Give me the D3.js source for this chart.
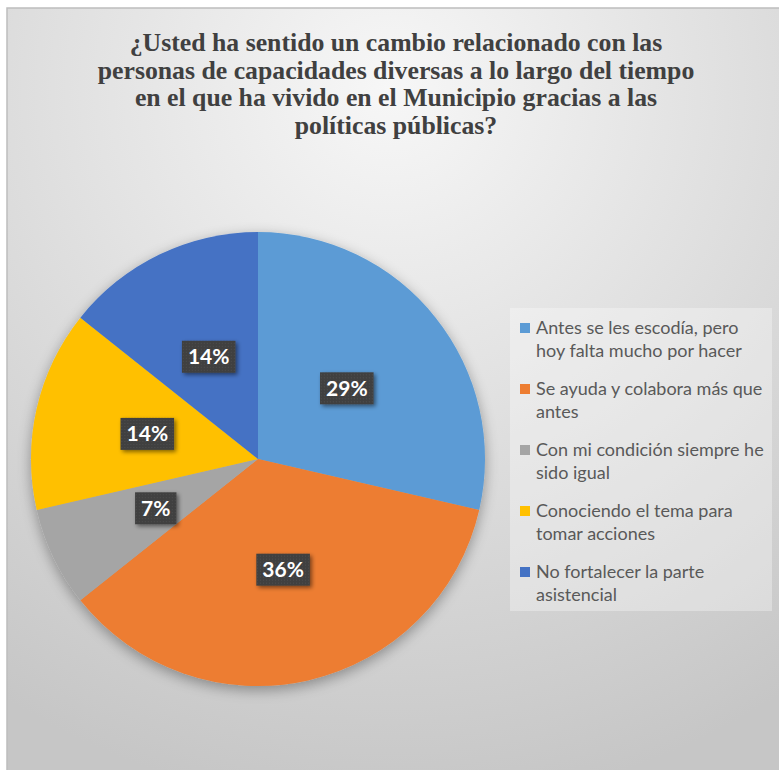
<!DOCTYPE html>
<html><head><meta charset="utf-8">
<script src="https://cdn.jsdelivr.net/npm/d3@7"></script>
<style>html,body{margin:0;padding:0;background:#fff;} svg{display:block}</style>
</head><body>
<svg id="chart" width="779" height="770"></svg>
<script>
const titleLines = [
  "¿Usted ha sentido un cambio relacionado con las",
  "personas de capacidades diversas a lo largo del tiempo",
  "en el que ha vivido en el Municipio gracias a las",
  "políticas públicas?"
];
const categories = [
  "Antes se les escodía, pero\nhoy falta mucho por hacer",
  "Se ayuda y colabora más que\nantes",
  "Con mi condición siempre he\nsido igual",
  "Conociendo el tema para\ntomar acciones",
  "No fortalecer la parte\nasistencial"
];
const values = [28.6, 35.7, 7.1, 14.3, 14.3];
const colors = ["#5B9BD5", "#ED7D31", "#A5A5A5", "#FFC000", "#4472C4"];

const W = 779, H = 770;
const svg = d3.select("#chart");
const defs = svg.append("defs");

const bg = defs.append("radialGradient").attr("id", "bg")
  .attr("gradientUnits", "userSpaceOnUse")
  .attr("cx", 390).attr("cy", 90).attr("r", 720).attr("fx", 390).attr("fy", 90);
bg.append("stop").attr("offset", 0).attr("stop-color", "#f7f7f7");
bg.append("stop").attr("offset", 0.55).attr("stop-color", "#dcdcdc");
bg.append("stop").attr("offset", 1).attr("stop-color", "#c6c6c6");

const pieShadow = defs.append("filter").attr("id", "pieShadow")
  .attr("x", "-20%").attr("y", "-20%").attr("width", "140%").attr("height", "140%");
pieShadow.append("feGaussianBlur").attr("in", "SourceAlpha").attr("stdDeviation", 7).attr("result", "b");
pieShadow.append("feOffset").attr("in", "b").attr("dx", 0).attr("dy", 4).attr("result", "o");
pieShadow.append("feComponentTransfer").attr("in", "o").attr("result", "o2")
  .append("feFuncA").attr("type", "linear").attr("slope", 0.35);
const pm = pieShadow.append("feMerge");
pm.append("feMergeNode").attr("in", "o2");
pm.append("feMergeNode").attr("in", "SourceGraphic");

const boxShadow = defs.append("filter").attr("id", "boxShadow")
  .attr("x", "-30%").attr("y", "-30%").attr("width", "160%").attr("height", "160%");
boxShadow.append("feGaussianBlur").attr("in", "SourceAlpha").attr("stdDeviation", 2).attr("result", "b");
boxShadow.append("feOffset").attr("in", "b").attr("dx", 2).attr("dy", 2).attr("result", "o");
boxShadow.append("feComponentTransfer").attr("in", "o").attr("result", "o2")
  .append("feFuncA").attr("type", "linear").attr("slope", 0.5);
const bm = boxShadow.append("feMerge");
bm.append("feMergeNode").attr("in", "o2");
bm.append("feMergeNode").attr("in", "SourceGraphic");

const dots = defs.append("pattern").attr("id", "dots")
  .attr("width", 3).attr("height", 3).attr("patternUnits", "userSpaceOnUse");
dots.append("rect").attr("width", 3).attr("height", 3).attr("fill", "#404040");
dots.append("rect").attr("x", 1).attr("y", 1).attr("width", 1).attr("height", 1).attr("fill", "#4f4f4f");

// frame
svg.append("rect").attr("x", 7).attr("y", 8).attr("width", W - 6).attr("height", H - 7)
  .attr("fill", "url(#bg)").attr("stroke", "#bdbdbd").attr("stroke-width", 1.5);

// title
const titleG = svg.append("g");
titleG.selectAll("text").data(titleLines).join("text")
  .attr("x", 396).attr("y", (d, i) => 51 + i * 27.5)
  .attr("text-anchor", "middle")
  .attr("font-family", "'Liberation Serif', 'Times New Roman', serif")
  .attr("font-weight", "bold").attr("font-size", 25)
  .attr("fill", "#404040")
  .text(d => d)
  .each(function() {
    const w = this.getComputedTextLength();
    d3.select(this).attr("textLength", w * 1.03).attr("lengthAdjust", "spacingAndGlyphs");
  });

// pie
const cx = 258, cy = 459, R = 227;
const pie = d3.pie().sort(null).value(d => d);
const arcs = pie(values);
const total = d3.sum(values);
const arc = d3.arc().innerRadius(0).outerRadius(R);
const g = svg.append("g").attr("transform", `translate(${cx},${cy})`);
g.append("g").attr("filter", "url(#pieShadow)")
  .selectAll("path").data(arcs).join("path")
  .attr("d", arc).attr("fill", (d, i) => colors[i]);

const fmt = d3.format(".0%");
const lab = g.selectAll("g.lab").data(arcs).join("g").attr("class", "lab")
  .attr("transform", d => `translate(${arc.centroid(d)})`);
lab.append("text")
  .attr("text-anchor", "middle").attr("dy", "0.36em")
  .attr("font-family", "Lato, 'Open Sans', sans-serif").attr("font-weight", "bold")
  .attr("font-size", 21).attr("fill", "#ffffff")
  .text(d => fmt(d.value / total));
lab.each(function() {
  const t = d3.select(this).select("text").node();
  const w = t.getComputedTextLength() + 12;
  d3.select(this).insert("rect", "text")
    .attr("x", -w / 2).attr("y", -16).attr("width", w).attr("height", 32)
    .attr("fill", "url(#dots)").attr("filter", "url(#boxShadow)");
});

// legend
const lg = svg.append("g");
lg.append("rect").attr("x", 510).attr("y", 308).attr("width", 262).attr("height", 303)
  .attr("fill", "#ffffff").attr("fill-opacity", 0.32);
const items = lg.selectAll("g.item").data(categories).join("g").attr("class", "item")
  .attr("transform", (d, i) => `translate(520,${323 + i * 61})`);
items.append("rect").attr("width", 10).attr("height", 10).attr("fill", (d, i) => colors[i]);
items.append("text")
  .attr("font-family", "Lato, 'Open Sans', sans-serif").attr("font-size", 18)
  .attr("fill", "#595959")
  .selectAll("tspan").data(d => d.split("\n")).join("tspan")
  .attr("x", 16).attr("y", (d, i) => 11 + i * 23)
  .text(d => d);
</script>
</body></html>
